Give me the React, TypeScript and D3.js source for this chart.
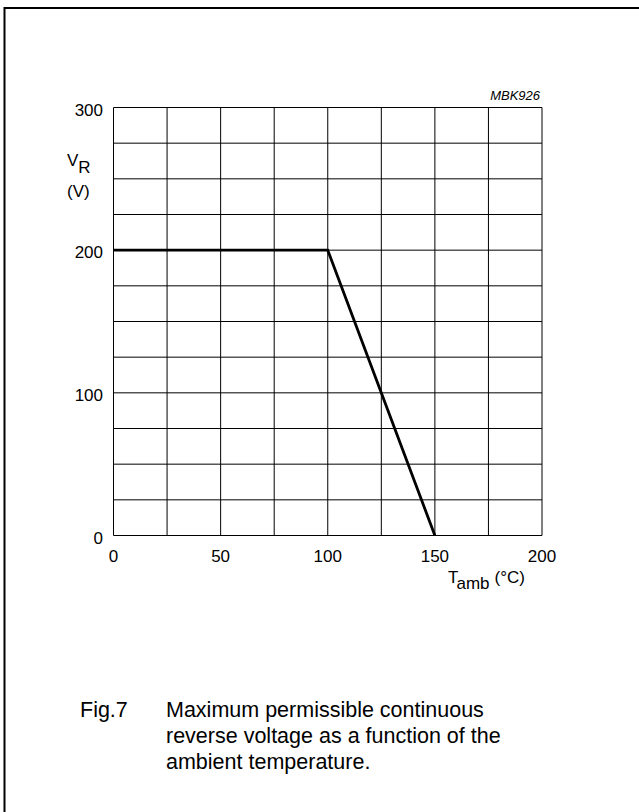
import React from "react";
import * as d3 from "d3";

// Derating curve: max continuous reverse voltage vs ambient temperature
const tempC = [0, 100, 150];
const voltageV = [200, 200, 0];

const xTicks = [0, 50, 100, 150, 200];
const yTicks = [0, 100, 200, 300];
const xGrid = [0, 25, 50, 75, 100, 125, 150, 175, 200];
const yGrid = [0, 25, 50, 75, 100, 125, 150, 175, 200, 225, 250, 275, 300];

const captionLines = [
  "Maximum permissible continuous",
  "reverse voltage as a function of the",
  "ambient temperature.",
];

const W = 639;
const H = 812;
const FONT = "'Liberation Sans', Arial, Helvetica, sans-serif";

export default function App() {
  const x = d3.scaleLinear().domain([0, 200]).range([113.5, 542]);
  const y = d3.scaleLinear().domain([0, 300]).range([535.5, 107.5]);

  const line = d3
    .line<number>()
    .x((_, i) => x(tempC[i]))
    .y((d) => y(d));

  return (
    <svg
      width={W}
      height={H}
      style={{ position: "absolute", left: 0, top: 0, background: "#fff" }}
      fontFamily={FONT}
    >
      {/* page frame */}
      <rect x={4.5} y={8} width={700} height={900} fill="none" stroke="#000" strokeWidth={2} />

      {/* grid */}
      {xGrid.map((v) => (
        <line key={"gx" + v} x1={x(v)} x2={x(v)} y1={y(0)} y2={y(300)} stroke="#000" strokeWidth={1} />
      ))}
      {yGrid.map((v) => (
        <line key={"gy" + v} x1={x(0)} x2={x(200)} y1={y(v)} y2={y(v)} stroke="#000" strokeWidth={1} />
      ))}

      {/* curve */}
      <path d={line(voltageV) || ""} fill="none" stroke="#000" strokeWidth={2.8} strokeLinejoin="miter" />

      {/* y tick labels */}
      {yTicks.map((v) => (
        <text key={"yt" + v} x={103} y={y(v) + 8} textAnchor="end" fontSize={17}>
          {v}
        </text>
      ))}

      {/* x tick labels */}
      {xTicks.map((v) => (
        <text key={"xt" + v} x={x(v)} y={562} textAnchor="middle" fontSize={17}>
          {v}
        </text>
      ))}

      {/* y axis title */}
      <text x={67} y={166} fontSize={17}>
        V
        <tspan dy={7}>R</tspan>
      </text>
      <text x={67} y={197} fontSize={17}>
        (V)
      </text>

      {/* x axis title */}
      <text x={448} y={583} fontSize={17}>
        T
        <tspan dy={6} fontSize={17}>amb</tspan>
        <tspan dy={-6} dx={5} fontSize={17}>(°C)</tspan>
      </text>

      {/* figure id */}
      <text x={540} y={100} textAnchor="end" fontSize={13} fontStyle="italic">
        MBK926
      </text>

      {/* caption */}
      <text x={80} y={717} fontSize={21.5}>
        Fig.7
      </text>
      {captionLines.map((t, i) => (
        <text key={"cap" + i} x={166} y={717 + i * 26} fontSize={21.5}>
          {t}
        </text>
      ))}
    </svg>
  );
}
